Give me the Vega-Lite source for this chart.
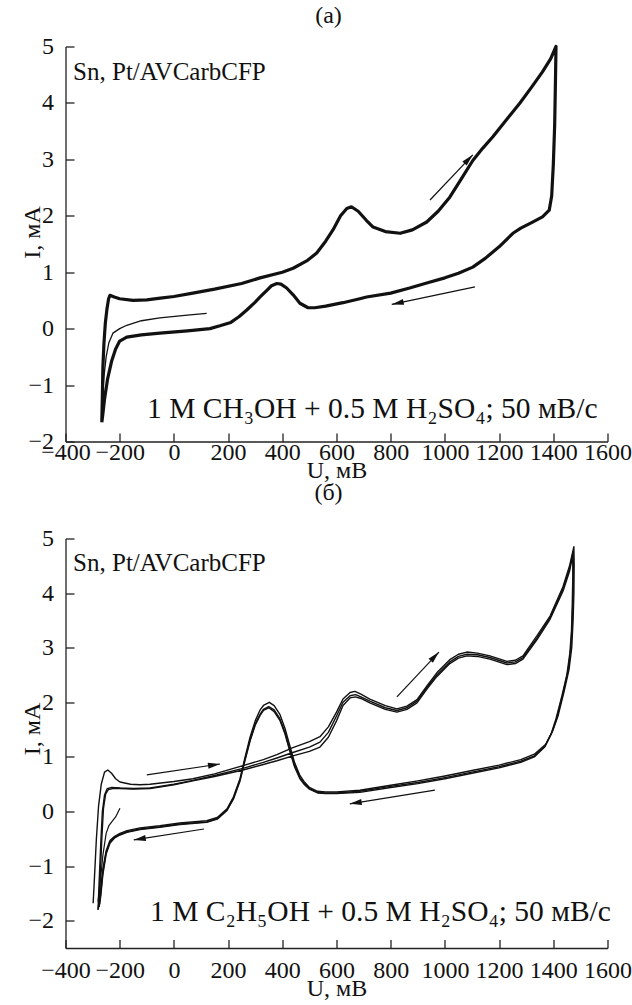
{
  "$schema": "https://vega.github.io/schema/vega-lite/v6.json",
  "background": "white",
  "autosize": {"type": "none"},
  "padding": {"left": 65.5, "top": 46.5, "right": 566.5, "bottom": 958.5},
  "bounds": "flush",
  "spacing": 97,
  "config": {
    "font": "Liberation Serif",
    "view": {"stroke": null},
    "axis": {
      "grid": false,
      "domainColor": "#222",
      "domainWidth": 1.3,
      "tickColor": "#222",
      "tickWidth": 1.3,
      "tickSize": -8.5,
      "labelFont": "Liberation Serif",
      "labelFontSize": 24,
      "labelColor": "#111",
      "labelFlush": false,
      "labelOverlap": false,
      "labelBound": false,
      "titleFont": "Liberation Serif",
      "titleFontSize": 24,
      "titleFontWeight": "normal",
      "titleColor": "#111",
      "format": "d"
    },
    "axisY": {"labelPadding": 20.5},
    "title": {"font": "Liberation Serif", "fontSize": 24, "fontWeight": "normal", "color": "#111"}
  },
  "datasets": {
    "curvesA": [
      {"s":"start","u":121,"I":0.27},{"s":"start","u":50,"I":0.24},{"s":"start","u":-52,"I":0.19},{"s":"start","u":-120,"I":0.14},{"s":"start","u":-174,"I":0.06},{"s":"start","u":-200,"I":0.0},{"s":"start","u":-225,"I":-0.08},{"s":"start","u":-240,"I":-0.25},{"s":"start","u":-250,"I":-0.5},{"s":"start","u":-258,"I":-0.85},{"s":"start","u":-263,"I":-1.2},{"s":"start","u":-266,"I":-1.55},
      {"s":"main","u":-266,"I":-1.66},{"s":"main","u":-264,"I":-1.2},{"s":"main","u":-262,"I":-0.68},{"s":"main","u":-258,"I":-0.25},{"s":"main","u":-253,"I":0.1},{"s":"main","u":-247,"I":0.35},{"s":"main","u":-241,"I":0.53},{"s":"main","u":-236,"I":0.59},{"s":"main","u":-220,"I":0.56},{"s":"main","u":-200,"I":0.53},{"s":"main","u":-151,"I":0.5},{"s":"main","u":-100,"I":0.51},{"s":"main","u":-50,"I":0.54},{"s":"main","u":0,"I":0.57},{"s":"main","u":70,"I":0.63},{"s":"main","u":150,"I":0.7},{"s":"main","u":250,"I":0.8},{"s":"main","u":318,"I":0.9},{"s":"main","u":400,"I":1.0},{"s":"main","u":440,"I":1.07},{"s":"main","u":490,"I":1.2},{"s":"main","u":527,"I":1.34},{"s":"main","u":560,"I":1.55},{"s":"main","u":587,"I":1.75},{"s":"main","u":615,"I":2.0},{"s":"main","u":638,"I":2.13},{"s":"main","u":655,"I":2.16},{"s":"main","u":680,"I":2.08},{"s":"main","u":710,"I":1.92},{"s":"main","u":735,"I":1.8},{"s":"main","u":780,"I":1.72},{"s":"main","u":835,"I":1.69},{"s":"main","u":880,"I":1.75},{"s":"main","u":933,"I":1.89},{"s":"main","u":975,"I":2.08},{"s":"main","u":1018,"I":2.33},{"s":"main","u":1060,"I":2.65},{"s":"main","u":1103,"I":2.98},{"s":"main","u":1140,"I":3.2},{"s":"main","u":1177,"I":3.4},{"s":"main","u":1230,"I":3.72},{"s":"main","u":1277,"I":4.0},{"s":"main","u":1320,"I":4.28},{"s":"main","u":1360,"I":4.55},{"s":"main","u":1390,"I":4.78},{"s":"main","u":1410,"I":5.0},
      {"s":"main","u":1408,"I":4.4},{"s":"main","u":1405,"I":3.6},{"s":"main","u":1400,"I":2.9},{"s":"main","u":1394,"I":2.35},{"s":"main","u":1385,"I":2.1},{"s":"main","u":1360,"I":1.98},{"s":"main","u":1320,"I":1.88},{"s":"main","u":1280,"I":1.78},{"s":"main","u":1251,"I":1.69},{"s":"main","u":1200,"I":1.45},{"s":"main","u":1150,"I":1.25},{"s":"main","u":1103,"I":1.09},{"s":"main","u":1050,"I":0.98},{"s":"main","u":1000,"I":0.9},{"s":"main","u":933,"I":0.81},{"s":"main","u":870,"I":0.72},{"s":"main","u":800,"I":0.63},{"s":"main","u":711,"I":0.56},{"s":"main","u":686,"I":0.53},{"s":"main","u":624,"I":0.46},{"s":"main","u":560,"I":0.4},{"s":"main","u":520,"I":0.37},{"s":"main","u":495,"I":0.37},{"s":"main","u":465,"I":0.45},{"s":"main","u":440,"I":0.6},{"s":"main","u":416,"I":0.72},{"s":"main","u":395,"I":0.79},{"s":"main","u":380,"I":0.8},{"s":"main","u":360,"I":0.76},{"s":"main","u":343,"I":0.68},{"s":"main","u":320,"I":0.57},{"s":"main","u":300,"I":0.47},{"s":"main","u":269,"I":0.33},{"s":"main","u":240,"I":0.21},{"s":"main","u":210,"I":0.11},{"s":"main","u":170,"I":0.05},{"s":"main","u":133,"I":0.0},{"s":"main","u":50,"I":-0.04},{"s":"main","u":-52,"I":-0.08},{"s":"main","u":-120,"I":-0.11},{"s":"main","u":-174,"I":-0.15},{"s":"main","u":-200,"I":-0.22},{"s":"main","u":-215,"I":-0.36},{"s":"main","u":-230,"I":-0.58},{"s":"main","u":-245,"I":-0.9},{"s":"main","u":-256,"I":-1.25},{"s":"main","u":-263,"I":-1.55},{"s":"main","u":-266,"I":-1.66}
    ],
    "arrowsA": [
      {"u":945,"I":2.28,"u2":1103,"I2":3.08},
      {"u":1111,"I":0.74,"u2":804,"I2":0.43}
    ],
    "curvesB": [
      {"s":"start","u":-199,"I":0.06},{"s":"start","u":-205,"I":0.0},{"s":"start","u":-215,"I":-0.1},{"s":"start","u":-228,"I":-0.18},{"s":"start","u":-240,"I":-0.26},{"s":"start","u":-250,"I":-0.4},{"s":"start","u":-262,"I":-0.8},{"s":"start","u":-272,"I":-1.3},{"s":"start","u":-280,"I":-1.65},
      {"s":"c1","u":-298,"I":-1.68},{"s":"c1","u":-293,"I":-1.2},{"s":"c1","u":-286,"I":-0.5},{"s":"c1","u":-278,"I":0.1},{"s":"c1","u":-268,"I":0.5},{"s":"c1","u":-256,"I":0.72},{"s":"c1","u":-244,"I":0.76},{"s":"c1","u":-230,"I":0.7},{"s":"c1","u":-215,"I":0.6},{"s":"c1","u":-199,"I":0.54},{"s":"c1","u":-160,"I":0.5},{"s":"c1","u":-125,"I":0.49},{"s":"c1","u":-88,"I":0.5},{"s":"c1","u":0,"I":0.55},{"s":"c1","u":70,"I":0.6},{"s":"c1","u":150,"I":0.69},{"s":"c1","u":255,"I":0.84},{"s":"c1","u":330,"I":0.95},{"s":"c1","u":380,"I":1.04},{"s":"c1","u":439,"I":1.17},{"s":"c1","u":500,"I":1.28},{"s":"c1","u":539,"I":1.37},{"s":"c1","u":570,"I":1.55},{"s":"c1","u":600,"I":1.82},{"s":"c1","u":624,"I":2.06},{"s":"c1","u":650,"I":2.18},{"s":"c1","u":668,"I":2.2},{"s":"c1","u":690,"I":2.15},{"s":"c1","u":723,"I":2.06},{"s":"c1","u":780,"I":1.94},{"s":"c1","u":823,"I":1.88},{"s":"c1","u":860,"I":1.93},{"s":"c1","u":897,"I":2.05},{"s":"c1","u":935,"I":2.31},{"s":"c1","u":970,"I":2.54},{"s":"c1","u":1018,"I":2.78},{"s":"c1","u":1050,"I":2.88},{"s":"c1","u":1081,"I":2.92},{"s":"c1","u":1120,"I":2.9},{"s":"c1","u":1166,"I":2.85},{"s":"c1","u":1229,"I":2.75},{"s":"c1","u":1260,"I":2.77},{"s":"c1","u":1288,"I":2.85},{"s":"c1","u":1340,"I":3.22},{"s":"c1","u":1388,"I":3.58},{"s":"c1","u":1436,"I":4.12},{"s":"c1","u":1460,"I":4.5},{"s":"c1","u":1476,"I":4.85},
      {"s":"c1","u":1477,"I":4.5},{"s":"c1","u":1476,"I":4.0},{"s":"c1","u":1473,"I":3.5},{"s":"c1","u":1468,"I":3.0},{"s":"c1","u":1458,"I":2.6},{"s":"c1","u":1440,"I":2.2},{"s":"c1","u":1418,"I":1.76},{"s":"c1","u":1398,"I":1.48},{"s":"c1","u":1372,"I":1.23},{"s":"c1","u":1330,"I":1.05},{"s":"c1","u":1280,"I":0.95},{"s":"c1","u":1200,"I":0.85},{"s":"c1","u":1100,"I":0.75},{"s":"c1","u":1000,"I":0.65},{"s":"c1","u":900,"I":0.56},{"s":"c1","u":800,"I":0.48},{"s":"c1","u":686,"I":0.39},{"s":"c1","u":600,"I":0.36},{"s":"c1","u":560,"I":0.36},{"s":"c1","u":530,"I":0.37},{"s":"c1","u":500,"I":0.44},{"s":"c1","u":480,"I":0.55},{"s":"c1","u":465,"I":0.66},{"s":"c1","u":445,"I":0.9},{"s":"c1","u":428,"I":1.2},{"s":"c1","u":410,"I":1.52},{"s":"c1","u":391,"I":1.78},{"s":"c1","u":370,"I":1.94},{"s":"c1","u":352,"I":2.0},{"s":"c1","u":332,"I":1.95},{"s":"c1","u":318,"I":1.86},{"s":"c1","u":300,"I":1.66},{"s":"c1","u":281,"I":1.36},{"s":"c1","u":262,"I":0.98},{"s":"c1","u":244,"I":0.6},{"s":"c1","u":220,"I":0.27},{"s":"c1","u":196,"I":0.05},{"s":"c1","u":160,"I":-0.11},{"s":"c1","u":121,"I":-0.17},{"s":"c1","u":22,"I":-0.21},{"s":"c1","u":-52,"I":-0.26},{"s":"c1","u":-125,"I":-0.3},{"s":"c1","u":-173,"I":-0.35},{"s":"c1","u":-199,"I":-0.4},{"s":"c1","u":-220,"I":-0.46},{"s":"c1","u":-236,"I":-0.53},{"s":"c1","u":-250,"I":-0.72},{"s":"c1","u":-262,"I":-1.05},{"s":"c1","u":-272,"I":-1.5},{"s":"c1","u":-280,"I":-1.8},
      {"s":"c2","u":-280,"I":-1.8},{"s":"c2","u":-276,"I":-1.3},{"s":"c2","u":-270,"I":-0.6},{"s":"c2","u":-264,"I":0.0},{"s":"c2","u":-256,"I":0.3},{"s":"c2","u":-246,"I":0.42},{"s":"c2","u":-230,"I":0.44},{"s":"c2","u":-199,"I":0.43},{"s":"c2","u":-150,"I":0.42},{"s":"c2","u":-88,"I":0.43},{"s":"c2","u":0,"I":0.5},{"s":"c2","u":70,"I":0.57},{"s":"c2","u":150,"I":0.66},{"s":"c2","u":255,"I":0.79},{"s":"c2","u":330,"I":0.9},{"s":"c2","u":380,"I":0.98},{"s":"c2","u":439,"I":1.08},{"s":"c2","u":500,"I":1.18},{"s":"c2","u":539,"I":1.27},{"s":"c2","u":570,"I":1.45},{"s":"c2","u":600,"I":1.75},{"s":"c2","u":624,"I":2.0},{"s":"c2","u":650,"I":2.12},{"s":"c2","u":670,"I":2.14},{"s":"c2","u":690,"I":2.1},{"s":"c2","u":723,"I":2.02},{"s":"c2","u":780,"I":1.9},{"s":"c2","u":823,"I":1.85},{"s":"c2","u":860,"I":1.9},{"s":"c2","u":897,"I":2.02},{"s":"c2","u":935,"I":2.28},{"s":"c2","u":970,"I":2.5},{"s":"c2","u":1018,"I":2.74},{"s":"c2","u":1050,"I":2.84},{"s":"c2","u":1081,"I":2.88},{"s":"c2","u":1120,"I":2.87},{"s":"c2","u":1166,"I":2.82},{"s":"c2","u":1229,"I":2.72},{"s":"c2","u":1260,"I":2.74},{"s":"c2","u":1288,"I":2.82},{"s":"c2","u":1340,"I":3.18},{"s":"c2","u":1388,"I":3.55},{"s":"c2","u":1436,"I":4.08},{"s":"c2","u":1460,"I":4.45},{"s":"c2","u":1473,"I":4.75},
      {"s":"c2","u":1474,"I":4.5},{"s":"c2","u":1473,"I":4.0},{"s":"c2","u":1470,"I":3.5},{"s":"c2","u":1465,"I":3.0},{"s":"c2","u":1455,"I":2.6},{"s":"c2","u":1436,"I":2.17},{"s":"c2","u":1414,"I":1.73},{"s":"c2","u":1395,"I":1.45},{"s":"c2","u":1370,"I":1.2},{"s":"c2","u":1330,"I":1.02},{"s":"c2","u":1280,"I":0.92},{"s":"c2","u":1200,"I":0.82},{"s":"c2","u":1100,"I":0.72},{"s":"c2","u":1000,"I":0.62},{"s":"c2","u":900,"I":0.53},{"s":"c2","u":800,"I":0.46},{"s":"c2","u":686,"I":0.37},{"s":"c2","u":600,"I":0.34},{"s":"c2","u":560,"I":0.34},{"s":"c2","u":530,"I":0.35},{"s":"c2","u":500,"I":0.42},{"s":"c2","u":480,"I":0.52},{"s":"c2","u":465,"I":0.62},{"s":"c2","u":445,"I":0.85},{"s":"c2","u":428,"I":1.13},{"s":"c2","u":410,"I":1.45},{"s":"c2","u":391,"I":1.7},{"s":"c2","u":370,"I":1.86},{"s":"c2","u":350,"I":1.92},{"s":"c2","u":330,"I":1.87},{"s":"c2","u":318,"I":1.78},{"s":"c2","u":300,"I":1.6},{"s":"c2","u":281,"I":1.31},{"s":"c2","u":262,"I":0.95},{"s":"c2","u":244,"I":0.58},{"s":"c2","u":220,"I":0.25},{"s":"c2","u":196,"I":0.03},{"s":"c2","u":160,"I":-0.13},{"s":"c2","u":121,"I":-0.19},{"s":"c2","u":22,"I":-0.23},{"s":"c2","u":-52,"I":-0.28},{"s":"c2","u":-125,"I":-0.32},{"s":"c2","u":-173,"I":-0.37},{"s":"c2","u":-199,"I":-0.42},{"s":"c2","u":-220,"I":-0.48},{"s":"c2","u":-236,"I":-0.56},{"s":"c2","u":-250,"I":-0.75},{"s":"c2","u":-262,"I":-1.1},{"s":"c2","u":-270,"I":-1.5},{"s":"c2","u":-276,"I":-1.75},
      {"s":"c3","u":-276,"I":-1.75},{"s":"c3","u":-272,"I":-1.2},{"s":"c3","u":-266,"I":-0.5},{"s":"c3","u":-260,"I":0.05},{"s":"c3","u":-252,"I":0.32},{"s":"c3","u":-242,"I":0.4},{"s":"c3","u":-226,"I":0.42},{"s":"c3","u":-199,"I":0.42},{"s":"c3","u":-150,"I":0.41},{"s":"c3","u":-88,"I":0.42},{"s":"c3","u":0,"I":0.49},{"s":"c3","u":70,"I":0.56},{"s":"c3","u":150,"I":0.64},{"s":"c3","u":255,"I":0.76},{"s":"c3","u":330,"I":0.86},{"s":"c3","u":380,"I":0.93},{"s":"c3","u":439,"I":1.02},{"s":"c3","u":500,"I":1.1},{"s":"c3","u":539,"I":1.18},{"s":"c3","u":570,"I":1.36},{"s":"c3","u":600,"I":1.66},{"s":"c3","u":624,"I":1.94},{"s":"c3","u":650,"I":2.08},{"s":"c3","u":670,"I":2.1},{"s":"c3","u":690,"I":2.07},{"s":"c3","u":723,"I":1.99},{"s":"c3","u":780,"I":1.87},{"s":"c3","u":823,"I":1.82},{"s":"c3","u":860,"I":1.87},{"s":"c3","u":897,"I":1.99},{"s":"c3","u":935,"I":2.25},{"s":"c3","u":970,"I":2.47},{"s":"c3","u":1018,"I":2.71},{"s":"c3","u":1050,"I":2.81},{"s":"c3","u":1081,"I":2.85},{"s":"c3","u":1120,"I":2.84},{"s":"c3","u":1166,"I":2.79},{"s":"c3","u":1229,"I":2.69},{"s":"c3","u":1260,"I":2.71},{"s":"c3","u":1288,"I":2.79},{"s":"c3","u":1340,"I":3.15},{"s":"c3","u":1388,"I":3.52},{"s":"c3","u":1436,"I":4.04},{"s":"c3","u":1460,"I":4.4},{"s":"c3","u":1472,"I":4.7},
      {"s":"c3","u":1472,"I":4.3},{"s":"c3","u":1470,"I":3.8},{"s":"c3","u":1467,"I":3.3},{"s":"c3","u":1461,"I":2.9},{"s":"c3","u":1450,"I":2.5},{"s":"c3","u":1432,"I":2.12},{"s":"c3","u":1410,"I":1.7},{"s":"c3","u":1392,"I":1.42},{"s":"c3","u":1368,"I":1.18},{"s":"c3","u":1330,"I":1.0},{"s":"c3","u":1280,"I":0.9},{"s":"c3","u":1200,"I":0.8},{"s":"c3","u":1100,"I":0.7},{"s":"c3","u":1000,"I":0.6},{"s":"c3","u":900,"I":0.51},{"s":"c3","u":800,"I":0.44},{"s":"c3","u":686,"I":0.35},{"s":"c3","u":600,"I":0.33},{"s":"c3","u":560,"I":0.33},{"s":"c3","u":530,"I":0.34},{"s":"c3","u":500,"I":0.41},{"s":"c3","u":480,"I":0.5},{"s":"c3","u":465,"I":0.6},{"s":"c3","u":445,"I":0.82},{"s":"c3","u":428,"I":1.1},{"s":"c3","u":410,"I":1.42},{"s":"c3","u":391,"I":1.67},{"s":"c3","u":370,"I":1.83},{"s":"c3","u":350,"I":1.9},{"s":"c3","u":330,"I":1.85},{"s":"c3","u":318,"I":1.76},{"s":"c3","u":300,"I":1.58},{"s":"c3","u":281,"I":1.29},{"s":"c3","u":262,"I":0.93},{"s":"c3","u":244,"I":0.56},{"s":"c3","u":220,"I":0.23},{"s":"c3","u":196,"I":0.02},{"s":"c3","u":160,"I":-0.14},{"s":"c3","u":121,"I":-0.2},{"s":"c3","u":22,"I":-0.24},{"s":"c3","u":-52,"I":-0.29},{"s":"c3","u":-125,"I":-0.33},{"s":"c3","u":-173,"I":-0.38},{"s":"c3","u":-199,"I":-0.43},{"s":"c3","u":-220,"I":-0.49},{"s":"c3","u":-236,"I":-0.58},{"s":"c3","u":-250,"I":-0.78},{"s":"c3","u":-262,"I":-1.15},{"s":"c3","u":-270,"I":-1.55},{"s":"c3","u":-274,"I":-1.7}
    ],
    "arrowsB": [
      {"u":-100,"I":0.67,"u2":170,"I2":0.87},
      {"u":111,"I":-0.32,"u2":-148,"I2":-0.52},
      {"u":823,"I":2.1,"u2":978,"I2":2.92},
      {"u":963,"I":0.39,"u2":649,"I2":0.14}
    ]
  },
  "vconcat": [
    {
      "width": 542,
      "height": 395,
      "title": {"text": "(a)", "offset": 7, "dx": -8},
      "layer": [
        {
          "data": {"name": "curvesA"},
          "transform": [{"filter": "datum.s == 'main'"}],
          "mark": {"type": "line", "color": "#111", "strokeWidth": 3.2, "strokeJoin": "round"},
          "encoding": {
            "x": {"field": "u", "type": "quantitative", "scale": {"domain": [-400, 1600], "nice": false, "zero": false},
                  "axis": {"title": "U, мВ", "values": [-400,-200,0,200,400,600,800,1000,1200,1400,1600], "labelPadding": 7, "titlePadding": -6}},
            "y": {"field": "I", "type": "quantitative", "scale": {"domain": [-2, 5], "nice": false, "zero": false},
                  "axis": {"title": "I, мА", "values": [-2,-1,0,1,2,3,4,5], "titleX": -26, "titleY": 185.5, "titleBaseline": "alphabetic", "titleAlign": "center"}},
            "order": {"value": null}
          }
        },
        {
          "data": {"name": "curvesA"},
          "transform": [{"filter": "datum.s == 'start'"}],
          "mark": {"type": "line", "color": "#111", "strokeWidth": 1.3, "strokeJoin": "round"},
          "encoding": {
            "x": {"field": "u", "type": "quantitative"},
            "y": {"field": "I", "type": "quantitative"},
            "order": {"value": null}
          }
        },
        {
          "data": {"name": "arrowsA"},
          "mark": {"type": "rule", "color": "#111", "strokeWidth": 1.2},
          "encoding": {
            "x": {"field": "u", "type": "quantitative"},
            "y": {"field": "I", "type": "quantitative"},
            "x2": {"field": "u2"},
            "y2": {"field": "I2"}
          }
        },
        {
          "data": {"name": "arrowsA"},
          "transform": [{"calculate": "atan2(-(datum.I2 - datum.I) * 56.43, (datum.u2 - datum.u) * 0.271) * 180 / PI", "as": "ang"}],
          "mark": {"type": "point", "shape": "M0,0L-2.4,-0.6L-2.4,0.6Z", "filled": true, "color": "#111", "opacity": 1, "size": 100},
          "encoding": {
            "x": {"field": "u2", "type": "quantitative"},
            "y": {"field": "I2", "type": "quantitative"},
            "angle": {"field": "ang", "type": "quantitative", "scale": null}
          }
        },
        {
          "data": {"values": [{"label": "Sn, Pt/AVCarbCFP"}]},
          "mark": {"type": "text", "align": "left", "baseline": "alphabetic", "fontSize": 25, "font": "Liberation Serif", "color": "#111"},
          "encoding": {"x": {"datum": -372}, "y": {"datum": 4.4}, "text": {"field": "label"}}
        },
        {
          "data": {"values": [{"label": "1 М CH₃OH + 0.5 М H₂SO₄; 50 мВ/с"}]},
          "mark": {"type": "text", "align": "left", "baseline": "alphabetic", "fontSize": 29.5, "font": "Liberation Serif", "color": "#111"},
          "encoding": {"x": {"datum": -99}, "y": {"datum": -1.58}, "text": {"field": "label"}}
        }
      ]
    },
    {
      "width": 542,
      "height": 409.5,
      "title": {"text": "(б)", "offset": 22, "dx": -8},
      "layer": [
        {
          "data": {"name": "curvesB"},
          "transform": [{"filter": "datum.s != 'start'"}],
          "mark": {"type": "line", "color": "#111", "strokeWidth": 1.4, "strokeJoin": "round"},
          "encoding": {
            "x": {"field": "u", "type": "quantitative", "scale": {"domain": [-400, 1600], "nice": false, "zero": false},
                  "axis": {"title": "U, мВ", "values": [-400,-200,0,200,400,600,800,1000,1200,1400,1600], "labelPadding": 19, "titlePadding": -6}},
            "y": {"field": "I", "type": "quantitative", "scale": {"domain": [-2.5, 5], "nice": false, "zero": false},
                  "axis": {"title": "I, мА", "values": [-2,-1,0,1,2,3,4,5], "titleX": -26, "titleY": 190, "titleBaseline": "alphabetic", "titleAlign": "center"}},
            "detail": {"field": "s"},
            "order": {"value": null}
          }
        },
        {
          "data": {"name": "curvesB"},
          "transform": [{"filter": "datum.s == 'start'"}],
          "mark": {"type": "line", "color": "#111", "strokeWidth": 1.2, "strokeJoin": "round"},
          "encoding": {
            "x": {"field": "u", "type": "quantitative"},
            "y": {"field": "I", "type": "quantitative"},
            "order": {"value": null}
          }
        },
        {
          "data": {"name": "arrowsB"},
          "mark": {"type": "rule", "color": "#111", "strokeWidth": 1.2},
          "encoding": {
            "x": {"field": "u", "type": "quantitative"},
            "y": {"field": "I", "type": "quantitative"},
            "x2": {"field": "u2"},
            "y2": {"field": "I2"}
          }
        },
        {
          "data": {"name": "arrowsB"},
          "transform": [{"calculate": "atan2(-(datum.I2 - datum.I) * 54.6, (datum.u2 - datum.u) * 0.271) * 180 / PI", "as": "ang"}],
          "mark": {"type": "point", "shape": "M0,0L-2.4,-0.6L-2.4,0.6Z", "filled": true, "color": "#111", "opacity": 1, "size": 100},
          "encoding": {
            "x": {"field": "u2", "type": "quantitative"},
            "y": {"field": "I2", "type": "quantitative"},
            "angle": {"field": "ang", "type": "quantitative", "scale": null}
          }
        },
        {
          "data": {"values": [{"label": "Sn, Pt/AVCarbCFP"}]},
          "mark": {"type": "text", "align": "left", "baseline": "alphabetic", "fontSize": 25, "font": "Liberation Serif", "color": "#111"},
          "encoding": {"x": {"datum": -372}, "y": {"datum": 4.4}, "text": {"field": "label"}}
        },
        {
          "data": {"values": [{"label": "1 М C₂H₅OH + 0.5 М H₂SO₄; 50 мВ/с"}]},
          "mark": {"type": "text", "align": "left", "baseline": "alphabetic", "fontSize": 29.5, "font": "Liberation Serif", "color": "#111"},
          "encoding": {"x": {"datum": -88}, "y": {"datum": -2.0}, "text": {"field": "label"}}
        }
      ]
    }
  ]
}
